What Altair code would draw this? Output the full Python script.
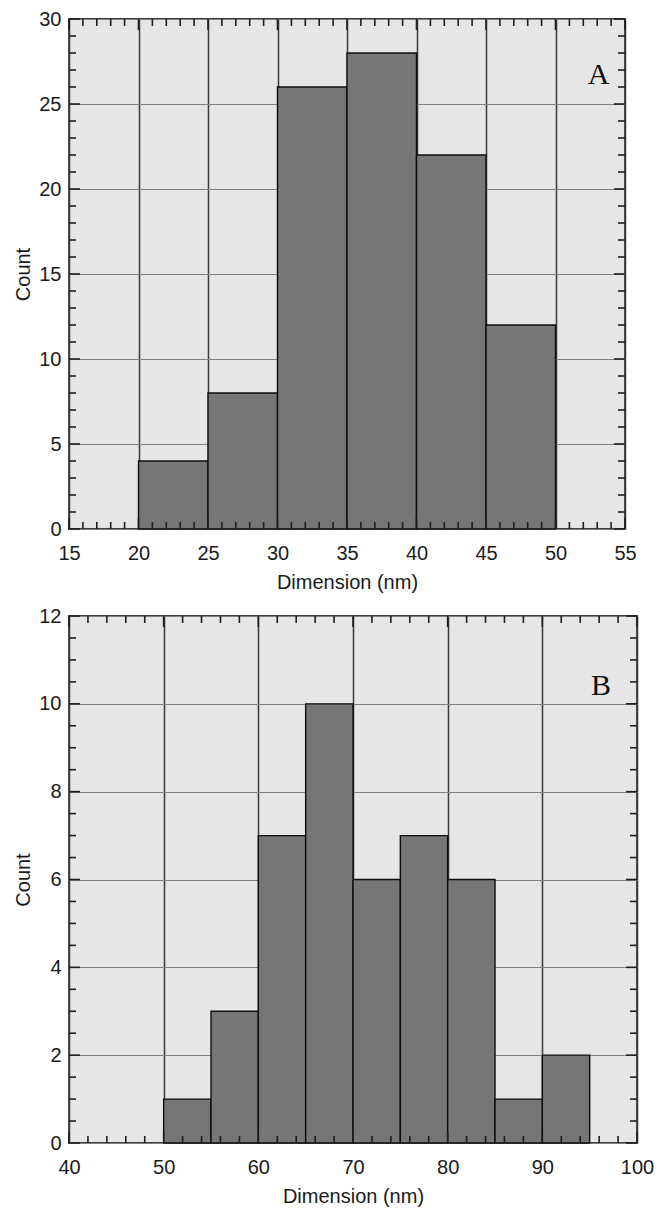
import altair as alt
import pandas as pd

# ---------------- data ----------------
a_start = [20, 25, 30, 35, 40, 45]
a_end = [25, 30, 35, 40, 45, 50]
a_count = [4, 8, 26, 28, 22, 12]

b_start = [50, 55, 60, 65, 70, 75, 80, 85, 90]
b_end = [55, 60, 65, 70, 75, 80, 85, 90, 95]
b_count = [1, 3, 7, 10, 6, 7, 6, 1, 2]

a_x_major = [15, 20, 25, 30, 35, 40, 45, 50, 55]
a_y_major = [0, 5, 10, 15, 20, 25, 30]
a_x_minor = [v for v in range(15, 56) if v % 5 != 0]
a_y_minor = [v for v in range(0, 31) if v % 5 != 0]

b_x_major = [40, 50, 60, 70, 80, 90, 100]
b_y_major = [0, 2, 4, 6, 8, 10, 12]
b_x_minor = [v for v in range(40, 101, 2) if v % 10 != 0]
b_y_minor = [v / 2 for v in range(0, 25) if v % 4 != 0]

a_label = ("A", 53.1, 26.7)
b_label = ("B", 96.2, 10.4)

FONT = "Liberation Sans"
TICK = "#1e1e1e"


def panel(start, end, count, xdom, ydom, xmaj, ymaj, xmin, ymin, lab, W, H):
    xs = alt.Scale(domain=xdom, nice=False, zero=False)
    ys = alt.Scale(domain=ydom, nice=False, zero=False)
    df = pd.DataFrame({"start": start, "end": end, "count": count,
                       "base": [0] * len(count)})
    xaxis = alt.Axis(values=xmaj, grid=True, gridColor="#3a3a3a", gridWidth=1.5,
                     ticks=False, domain=False, labelFontSize=20, titleFontSize=20,
                     labelPadding=14, titlePadding=9, format="d",
                     labelFlush=False, labelOverlap=False, title="Dimension (nm)")
    yaxis = alt.Axis(values=ymaj, grid=True, gridColor="#808080", gridWidth=1.1,
                     ticks=False, domain=False, labelFontSize=20, titleFontSize=20,
                     labelPadding=8, titlePadding=5, format="d",
                     labelFlush=False, labelOverlap=False, title="Count")

    def X(f):
        return alt.X(f, scale=xs, axis=xaxis)

    def Y(f):
        return alt.Y(f, scale=ys, axis=yaxis)

    bars = alt.Chart(df).mark_rect(fill="#767676", stroke="#0d0d0d",
                                   strokeWidth=1.4).encode(
        x=X("start:Q"), x2="end:Q", y=Y("count:Q"), y2="base:Q")
    layers = [bars]

    def xticks(vals, length):
        d = pd.DataFrame({"v": vals})
        bot = alt.Chart(d).mark_rule(color=TICK, strokeWidth=1.6).encode(
            x=X("v:Q"), y=alt.value(H), y2=alt.value(H - length))
        top = alt.Chart(d).mark_rule(color=TICK, strokeWidth=1.6).encode(
            x=X("v:Q"), y=alt.value(0), y2=alt.value(length))
        return [bot, top]

    def yticks(vals, length):
        d = pd.DataFrame({"v": vals})
        left = alt.Chart(d).mark_rule(color=TICK, strokeWidth=1.6).encode(
            y=Y("v:Q"), x=alt.value(0), x2=alt.value(length))
        right = alt.Chart(d).mark_rule(color=TICK, strokeWidth=1.6).encode(
            y=Y("v:Q"), x=alt.value(W), x2=alt.value(W - length))
        return [left, right]

    layers += xticks(xmin, 7) + xticks(xmaj, 11) + yticks(ymin, 7) + yticks(ymaj, 11)

    ld = pd.DataFrame({"t": [lab[0]], "x": [lab[1]], "y": [lab[2]]})
    text = alt.Chart(ld).mark_text(font="Liberation Serif", fontSize=30,
                                   color="#111111").encode(
        x=X("x:Q"), y=Y("y:Q"), text="t:N")
    layers.append(text)
    return alt.layer(*layers).properties(width=W, height=H)


pa = panel(a_start, a_end, a_count, [15, 55], [0, 30], a_x_major, a_y_major,
           a_x_minor, a_y_minor, a_label, 556, 510)
pb = panel(b_start, b_end, b_count, [40, 100], [0, 12], b_x_major, b_y_major,
           b_x_minor, b_y_minor, b_label, 568, 527)

chart = alt.vconcat(pa, pb, spacing=12).properties(
    padding={"left": 4, "top": 0, "right": 5, "bottom": 5},
    background="white",
).configure_view(
    fill="#e6e6e6", stroke="#3d3d3d", strokeWidth=1.8
).configure_axis(
    labelFont=FONT, titleFont=FONT, labelColor="#1a1a1a", titleColor="#1a1a1a",
    titleFontWeight="normal"
)

chart.save("out.html", embed_options={"renderer": "svg", "actions": False})
